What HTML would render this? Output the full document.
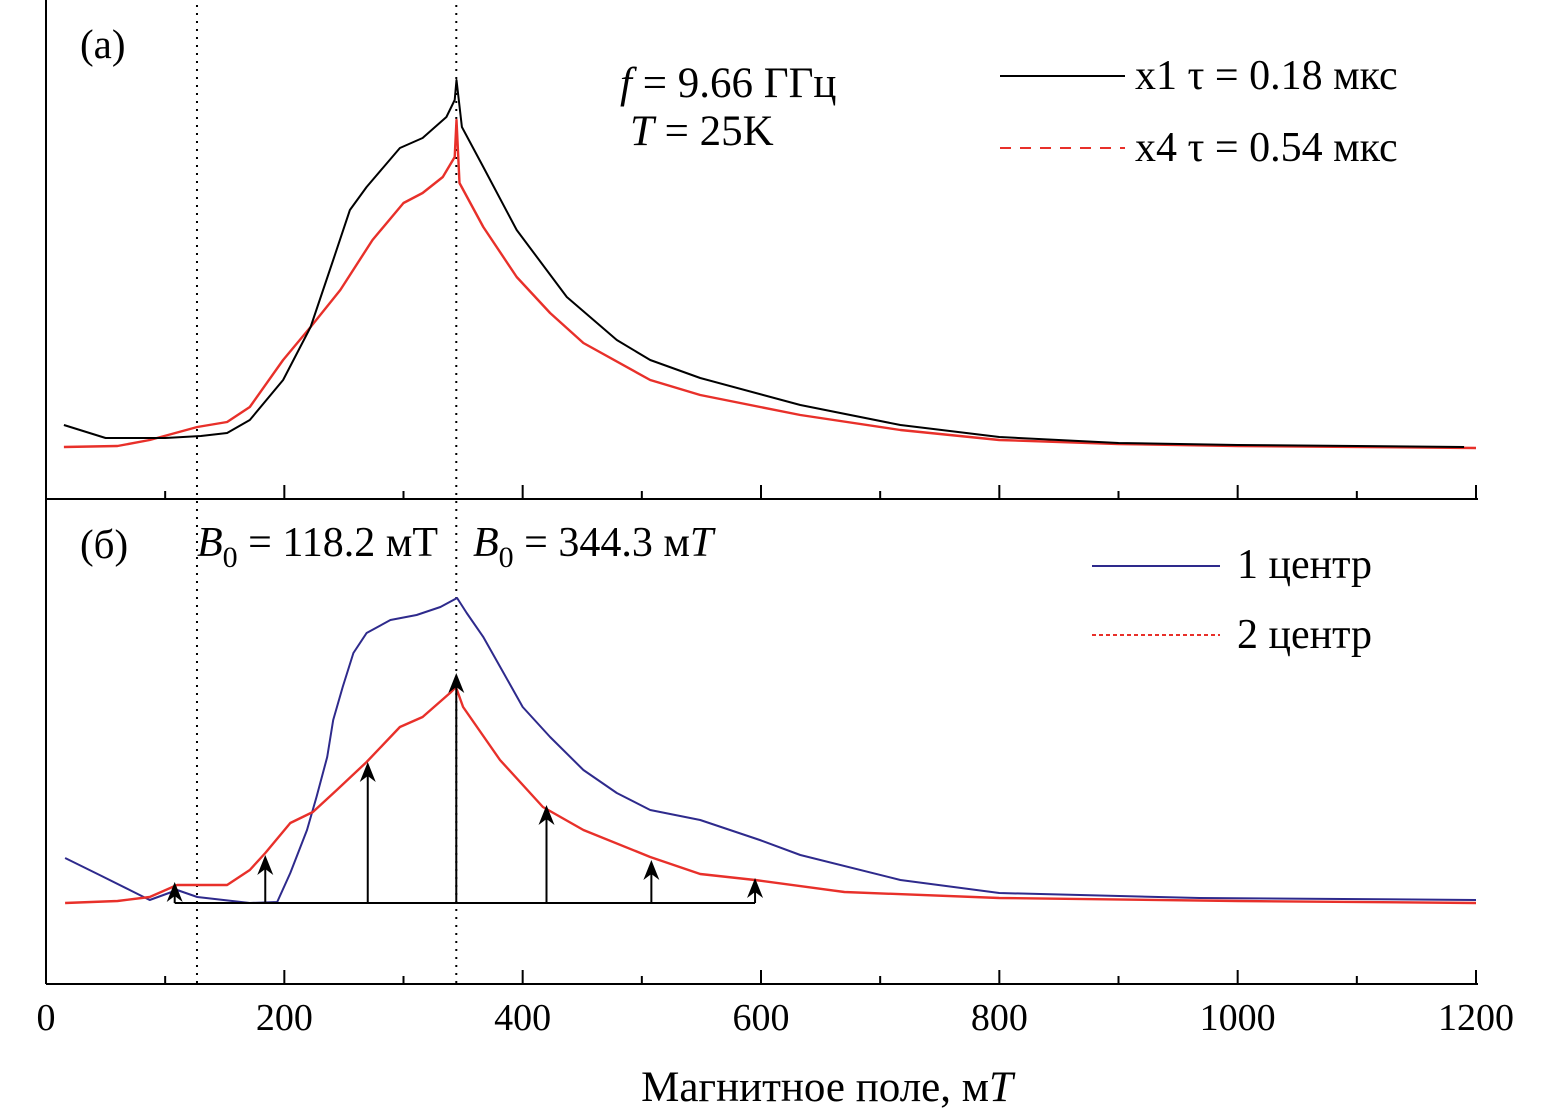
<!DOCTYPE html>
<html><head><meta charset="utf-8"><style>
html,body{margin:0;padding:0;background:#fff;}
svg{display:block;font-family:"Liberation Serif","DejaVu Serif",serif;}
</style></head><body>
<svg id="chart" width="1562" height="1109" viewBox="0 0 1562 1109">
<g id="axes"></g>
<g id="series"></g>
<g id="labels">
<text x="80" y="58" font-size="41">(a)</text>
<text x="620" y="97" font-size="43"><tspan font-style="italic">f</tspan> = 9.66 ГГц</text>
<text x="630" y="145" font-size="43"><tspan font-style="italic">T</tspan> = 25K</text>
<line x1="1000" y1="76" x2="1125" y2="76" stroke="#000" stroke-width="2"/>
<text x="1135" y="89" font-size="42">x1 τ = 0.18 мкс</text>
<line x1="1000" y1="148" x2="1125" y2="148" stroke="#e8302a" stroke-width="2" stroke-dasharray="11,9"/>
<text x="1135" y="161" font-size="42">x4 τ = 0.54 мкс</text>
<text x="80" y="558" font-size="41">(б)</text>
<text x="197" y="556" font-size="42"><tspan font-style="italic">B</tspan><tspan font-size="30" dy="11">0</tspan><tspan dy="-11"> = 118.2 мТ</tspan></text>
<text x="473" y="556" font-size="42"><tspan font-style="italic">B</tspan><tspan font-size="30" dy="11">0</tspan><tspan dy="-11"> = 344.3 м</tspan><tspan font-style="italic">T</tspan></text>
<line x1="1092" y1="566" x2="1220" y2="566" stroke="#2e2a8c" stroke-width="2"/>
<text x="1237" y="578" font-size="42">1 центр</text>
<line x1="1092" y1="635" x2="1220" y2="635" stroke="#e8302a" stroke-width="2" stroke-dasharray="4,3"/>
<text x="1237" y="648" font-size="42">2 центр</text>
<text x="827" y="1101" font-size="43" text-anchor="middle">Магнитное поле, м<tspan font-style="italic">T</tspan></text>
</g>
</svg>
<script>
const xTicks=[0,200,400,600,800,1000,1200];
const xMinor=[100,300,500,700,900,1100];
const markerLines=[126.7,344.3];
const topBlackX=[15,50,100,130,152,171,199,222,241,255,269,297,316,336,343,344.5,349,367,395,437,479,507,549,633,717,800,900,1000,1100,1190];
const topBlackV=[23,10,10,12,15,28,68,121,188,238,261,300,310,331,348,368,321,281,218,151,108,88,70,43,23,11,5,3,2,1];
const topRedX=[15,60,87,127,152,171,199,222,247,274,300,316,333,343,344.5,347,367,395,423,451,507,549,633,717,800,900,1000,1200];
const topRedV=[1,2,8,21,26,41,88,121,158,208,245,255,271,291,328,265,221,171,135,105,68,53,33,18,8,4,2,0];
const botBlueX=[16,45,87,110,127,171,194,205,219,227,236,241,249,258,269,289,311,331,345,353,367,384,400,423,451,479,507,549,599,633,717,800,968,1200];
const botBlueV=[45,28,3,13,6,0,1,30,73,106,146,183,216,250,270,283,288,296,305,290,266,230,196,166,133,110,93,83,63,48,23,10,5,3];
const botRedX=[16,60,87,110,152,171,184,205,224,244,269,297,316,339,344,350,381,417,451,507,549,595,670,800,1000,1200];
const botRedV=[0,2,6,18,18,33,50,80,91,113,141,176,186,210,216,196,143,96,73,46,29,23,11,5,2,0];
const stickX=[108,184,270,344.3,420,508,595];
const stickH=[21,48,141,230,98,43,25];

const NS="http://www.w3.org/2000/svg";
const X0=46,X1=1476;
const sx=v=>X0+(v/1200)*(X1-X0);
const syTop=v=>448-v;
const syBot=v=>903-v;
function mk(tag,attrs,parent){const e=document.createElementNS(NS,tag);for(const k in attrs)e.setAttribute(k,attrs[k]);parent.appendChild(e);return e;}
const axes=document.getElementById('axes'),ser=document.getElementById('series');

let e=mk('line',{x1:X0,y1:0,x2:X0,y2:984,stroke:'#000','stroke-width':2},axes);


[499,984].forEach((yy,i)=>{
  let l=mk('line',{x1:X0,y1:yy,x2:1478,y2:yy,stroke:'#000','stroke-width':2},axes);
  
  
  xTicks.forEach(t=>{if(t===0)return;let k=mk('line',{x1:sx(t),y1:yy,x2:sx(t),y2:yy-14,stroke:'#000','stroke-width':2},axes);
    
    });
  xMinor.forEach(t=>{let k=mk('line',{x1:sx(t),y1:yy,x2:sx(t),y2:yy-8,stroke:'#000','stroke-width':2},axes);
    
    });
});
xTicks.forEach(t=>{let tx=mk('text',{x:sx(t),y:1030,'font-size':38,'text-anchor':'middle'},axes);tx.textContent=t;
  
  });
markerLines.forEach(m=>{let l=mk('line',{x1:sx(m),y1:5,x2:sx(m),y2:984,stroke:'#000','stroke-width':2,'stroke-dasharray':'2,6'},axes);
  
  });

function path(xs,vs,sy,attrs,name){
  const d=xs.map((x,i)=>(i?'L':'M')+sx(x).toFixed(1)+','+sy(vs[i]).toFixed(1)).join('');
  const p=mk('path',Object.assign({d:d,fill:'none','stroke-linejoin':'round'},attrs),ser);
  
  
}
path(topRedX,topRedV,syTop,{stroke:'#e8302a','stroke-width':2.4},'series-x4-red');
path(topBlackX,topBlackV,syTop,{stroke:'#000','stroke-width':2},'series-x1-black');
path(botBlueX,botBlueV,syBot,{stroke:'#2e2a8c','stroke-width':2},'series-center1-blue');
path(botRedX,botRedV,syBot,{stroke:'#e8302a','stroke-width':2.4},'series-center2-red');

let base=mk('line',{x1:sx(stickX[0]),y1:903,x2:sx(stickX[stickX.length-1]),y2:903,stroke:'#000','stroke-width':2},ser);


stickX.forEach((x,i)=>{
  const px=sx(x),top=syBot(stickH[i]);
  let l=mk('line',{x1:px,y1:903,x2:px,y2:top+4,stroke:'#000','stroke-width':2},ser);
  
  
  let a=mk('path',{d:`M${px},${top}L${px-8},${top+20}L${px},${top+14}L${px+8},${top+20}Z`,fill:'#000'},ser);
  
  
});
</script>
</body></html>
